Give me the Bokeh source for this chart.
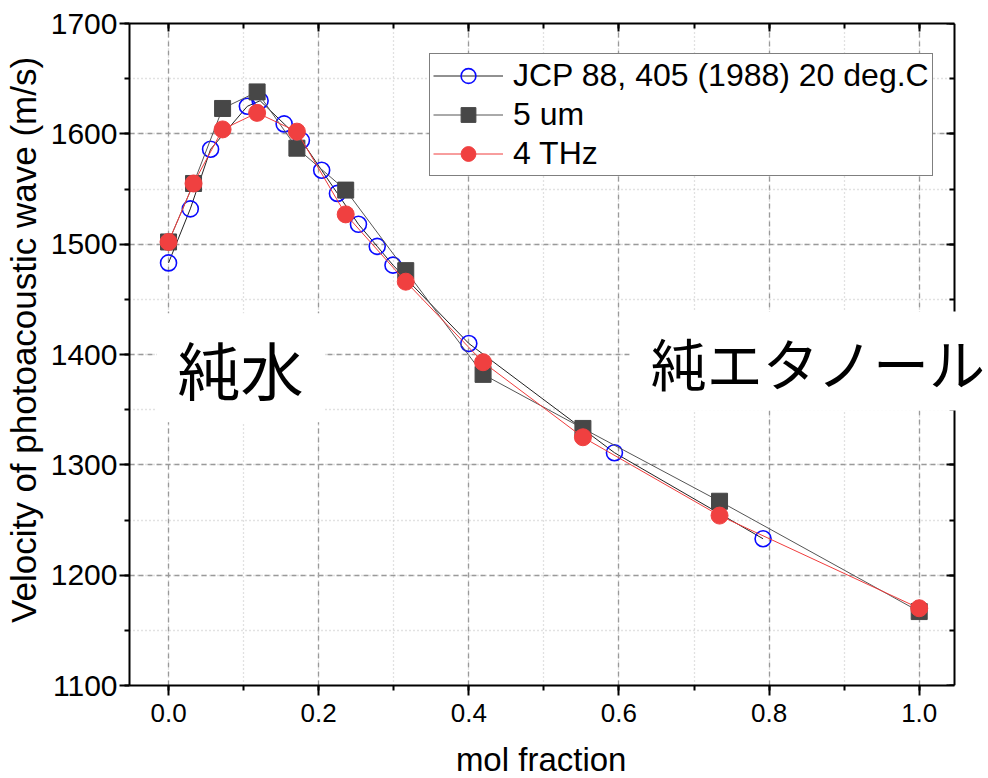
from bokeh.plotting import figure
from bokeh.models import (Range1d, LinearAxis, SingleIntervalTicker, Legend, LegendItem,
                          Label, NumeralTickFormatter, BoxAnnotation)
from bokeh.embed import file_html
from bokeh.resources import INLINE

# ---- data ----
jcp_x = [0.0, 0.029, 0.056, 0.105, 0.122, 0.154, 0.177, 0.204, 0.225, 0.253, 0.278, 0.299, 0.400, 0.594, 0.792]
jcp_y = [1483, 1532, 1586, 1625, 1630, 1609, 1594, 1567, 1546, 1518, 1498, 1481, 1410, 1311, 1233]

meas_x = [0.0, 0.0333, 0.072, 0.118, 0.171, 0.236, 0.316, 0.419, 0.552, 0.734, 1.0]
um5_y = [1502, 1555, 1623, 1638, 1587, 1549, 1476, 1382, 1333, 1267, 1167]
thz_y = [1502, 1555, 1604, 1619, 1602, 1527, 1466, 1393, 1325, 1254, 1170]

series_names = ["JCP 88, 405 (1988) 20 deg.C", "5 um", "4 THz"]
x_label = "mol fraction"
y_label = "Velocity of photoacoustic wave (m/s)"
note_left = "純水"
note_right = "純エタノール"

x_lo, x_hi = -0.052, 1.047      # visible axis extent
y_lo, y_hi = 1100, 1700

LATIN = "Liberation Sans"
CJK = "Noto Sans CJK JP"
NB = "\u00a0"

# frame extends a little past the right spine so the right-hand note can overhang it
p = figure(frame_width=860, frame_height=662, output_backend="svg", toolbar_location=None,
           x_range=Range1d(x_lo, x_lo + (x_hi - x_lo) * 860 / 825), y_range=Range1d(y_lo, y_hi),
           min_border_left=128, min_border_right=0, min_border_top=23, min_border_bottom=93)
p.outline_line_color = None
p.background_fill_color = "white"
p.border_fill_color = "white"

xt = SingleIntervalTicker(interval=0.2, num_minor_ticks=2)
yt = SingleIntervalTicker(interval=100, num_minor_ticks=2)

p.xaxis.ticker = xt
p.yaxis.ticker = yt
p.xaxis.formatter = NumeralTickFormatter(format="0.0")
p.xaxis.bounds = (x_lo, x_hi)

for ax in (p.xaxis[0], p.yaxis[0]):
    ax.axis_line_width = 2
    ax.major_tick_line_width = 2
    ax.minor_tick_line_width = 2
    ax.major_tick_out = 10
    ax.major_tick_in = 0
    ax.minor_tick_out = 5
    ax.minor_tick_in = 0
    ax.major_label_text_font = LATIN
    ax.axis_label_text_font = LATIN
    ax.axis_label_text_font_style = "normal"
    ax.major_label_text_color = "black"
    ax.axis_label_text_color = "black"

p.xaxis.major_label_text_font_size = "26px"
p.yaxis.major_label_text_font_size = "30px"
p.xaxis.axis_label_text_font_size = "33px"
p.yaxis.axis_label_text_font_size = "35px"
p.xaxis.major_label_standoff = 8
p.yaxis.major_label_standoff = 2
# non-breaking spaces re-centre the titles on the visible axis span
p.xaxis.axis_label = x_label + NB * 4
p.yaxis.axis_label = NB * 3 + y_label
p.xaxis.axis_label_standoff = 16
p.yaxis.axis_label_standoff = 5

top_ax = LinearAxis(ticker=xt, axis_line_width=2, major_tick_line_width=2, minor_tick_line_width=2,
                    major_tick_in=8, major_tick_out=0, minor_tick_in=5, minor_tick_out=0,
                    major_label_text_font_size="0px", major_label_standoff=0, bounds=(x_lo, x_hi))
p.add_layout(top_ax, "above")
right_ax = LinearAxis(ticker=yt, axis_line_width=2, major_tick_line_width=2, minor_tick_line_width=2,
                      major_tick_in=8, major_tick_out=0, minor_tick_in=5, minor_tick_out=0,
                      major_label_text_font_size="0px", major_label_standoff=0,
                      fixed_location=x_hi)
p.add_layout(right_ax, "right")

for g in (p.xgrid[0], p.ygrid[0]):
    g.grid_line_color = "#9a9a9a"
    g.grid_line_dash = "5 4"
    g.grid_line_width = 1.3
    g.minor_grid_line_color = "#c4c4c4"
    g.minor_grid_line_dash = "1 3"
    g.minor_grid_line_width = 1.3

# white-out the strip right of the spine (hides grid there)
p.add_layout(BoxAnnotation(left=x_hi, fill_color="white", fill_alpha=1, line_color=None,
                           level="underlay"))

# ---- series ----
l1 = p.line(jcp_x, jcp_y, line_color="#222222", line_width=1)
s1 = p.scatter(jcp_x, jcp_y, marker="circle", size=16, line_color="#0a0aff", line_width=1.6,
               fill_color=None)
l2 = p.line(meas_x, um5_y, line_color="#555555", line_width=1)
s2 = p.scatter(meas_x, um5_y, marker="square", size=16, line_color="#474747", fill_color="#474747")
l3 = p.line(meas_x, thz_y, line_color="#f03c3c", line_width=1)
s3 = p.scatter(meas_x, thz_y, marker="circle", size=17, line_color="#f04040", fill_color="#f04040")

leg = Legend(items=[LegendItem(label=series_names[0], renderers=[l1, s1]),
                    LegendItem(label=series_names[1], renderers=[l2, s2]),
                    LegendItem(label=series_names[2], renderers=[l3, s3])],
             location=(300, 509), orientation="vertical",
             label_text_font=LATIN, label_text_font_size="32px", label_text_color="black",
             glyph_width=70, glyph_height=37, spacing=2, label_standoff=10,
             padding=3, margin=0, border_line_color="black", border_line_width=1.5,
             background_fill_color="white", background_fill_alpha=1)
p.add_layout(leg, "center")

pad = dict(left=21, right=21, top=9, bottom=9)
lab1 = Label(x=0.0959, y=1388, text=note_left, text_font=CJK, text_font_size="63px",
             text_align="center", text_baseline="middle", text_color="black",
             background_fill_color="white", padding=pad)
lab2 = Label(x=0.866, y=1394, text=note_right, text_font=CJK, text_font_size="56px",
             text_align="center", text_baseline="middle", text_color="black",
             background_fill_color="white", padding=pad)
p.add_layout(lab1)
p.add_layout(lab2)

open("out.html", "w").write(file_html(p, INLINE))
